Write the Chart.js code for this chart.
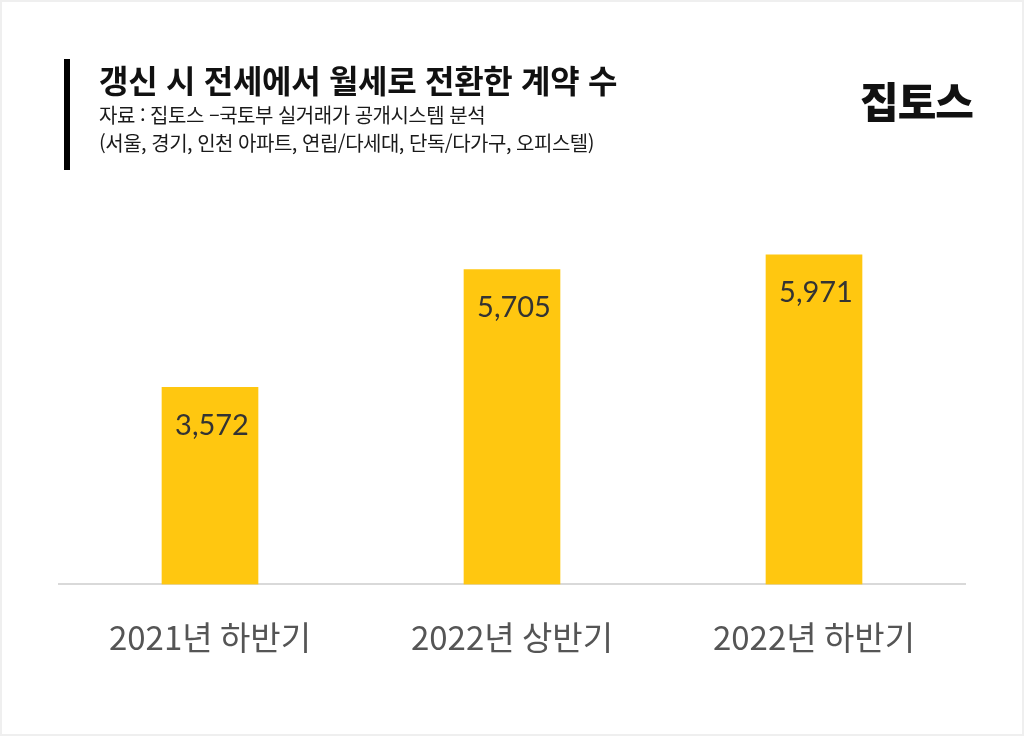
<!DOCTYPE html>
<html lang="ko">
<head>
<meta charset="utf-8">
<script src="https://cdn.jsdelivr.net/npm/chart.js@4"></script>
<style>
  html, body { margin: 0; padding: 0; background: #fff; }
  #wrap { position: relative; width: 1024px; height: 736px; overflow: hidden; box-sizing: border-box; border: 2px solid #efefef; background: #fff; }
  #chart { position: absolute; left: 0; top: 0; }
  .bar { position: absolute; left: 62px; top: 57px; width: 6px; height: 111px; background: #000; }
  .title { position: absolute; left: 97px; top: 55px; font-family: "Noto Sans CJK KR", sans-serif; font-weight: 700; font-size: 32px; color: #111; letter-spacing: -0.3px; line-height: 44px; white-space: nowrap; }
  .sub { position: absolute; left: 97px; font-family: "Noto Sans CJK KR", sans-serif; font-size: 20px; color: #1a1a1a; letter-spacing: -0.5px; line-height: 28px; white-space: nowrap; }
  .logo { position: absolute; left: 858px; top: 70px; font-family: "Noto Sans CJK KR", sans-serif; font-weight: 900; font-size: 42px; color: #111; letter-spacing: -1px; line-height: 56px; }
</style>
</head>
<body>
<div id="wrap">
  <canvas id="chart" width="1020" height="732"></canvas>
  <div class="bar"></div>
  <div class="title">갱신 시 전세에서 월세로 전환한 계약 수</div>
  <div class="sub" style="top:99px">자료 : 집토스 –국토부 실거래가 공개시스템 분석</div>
  <div class="sub" style="top:127px">(서울, 경기, 인천 아파트, 연립/다세대, 단독/다가구, 오피스텔)</div>
  <div class="logo">집토스</div>
</div>
<script>
const categories = ["2021년 하반기", "2022년 상반기", "2022년 하반기"];
const contracts = [3572, 5705, 5971];
const yMax = 7000;

const valueLabels = {
  id: 'valueLabels',
  afterDatasetsDraw(chart) {
    const ctx = chart.ctx;
    const meta = chart.getDatasetMeta(0);
    ctx.save();
    ctx.font = '29px Lato, "Noto Sans", sans-serif';
    ctx.fillStyle = '#333';
    ctx.textAlign = 'center';
    ctx.textBaseline = 'middle';
    meta.data.forEach((bar, i) => {
      ctx.fillText(contracts[i].toLocaleString('en-US'), bar.x + 2, bar.y + 38);
    });
    ctx.restore();
  }
};

new Chart(document.getElementById('chart'), {
  type: 'bar',
  data: {
    labels: categories,
    datasets: [{
      data: contracts,
      backgroundColor: '#FFC710',
      borderWidth: 0,
      barThickness: 96
    }]
  },
  options: {
    responsive: false,
    animation: false,
    layout: { padding: { left: 57, right: 57, top: 196, bottom: 52 } },
    plugins: { legend: { display: false }, tooltip: { enabled: false } },
    scales: {
      x: {
        grid: { display: false },
        border: { display: true, color: '#d9d9d9', width: 2 },
        ticks: { color: '#555', padding: 25, font: { family: '"Noto Sans CJK KR", sans-serif', size: 33 } }
      },
      y: { display: false, min: 0, max: yMax }
    }
  },
  plugins: [valueLabels]
});
</script>
</body>
</html>
